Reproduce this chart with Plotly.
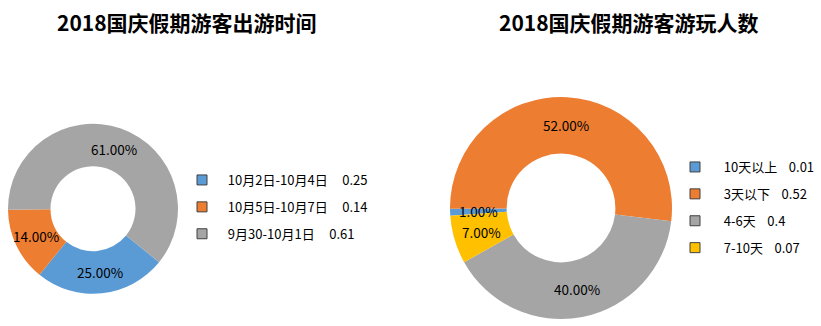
import math
import plotly.graph_objects as go

FONT = "Noto Sans CJK SC"
NB = "\u00a0"

# Left chart data
left_title = "2018国庆假期游客出游时间"
left_cats = ["10月2日-10月4日", "10月5日-10月7日", "9月30-10月1日"]
left_vals = [0.25, 0.14, 0.61]
left_colors = ["#5B9BD5", "#ED7D31", "#A5A5A5"]

# Right chart data
right_title = "2018国庆假期游客游玩人数"
right_cats = ["10天以上", "3天以下", "4-6天", "7-10天"]
right_vals = [0.01, 0.52, 0.4, 0.07]
right_colors = ["#5B9BD5", "#ED7D31", "#A5A5A5", "#FFC000"]

W, H = 821, 326

# pixel geometry of each donut: (left, right, top, bottom), hole, rotation
LEFT_BOX = (8, 178, 123.5, 294)
RIGHT_BOX = (450, 672, 97, 319)
LEFT_HOLE, RIGHT_HOLE = 0.5, 0.49
LEFT_ROT, RIGHT_ROT = 129, 266


def dom(box):
    l, r, t, b = box
    return dict(x=[l / W, r / W], y=[(H - b) / H, (H - t) / H])


def label_annotations(vals, box, hole, rot):
    l, r, t, b = box
    cx, cy = (l + r) / 2, (t + b) / 2
    R = min(r - l, b - t) / 2
    rmid = R * (1 + hole) / 2
    total = sum(vals)
    out = []
    cum = 0.0
    for v in vals:
        ang = math.radians(rot + 360 * (cum + v / 2) / total)
        cum += v
        px = cx + rmid * math.sin(ang)
        py = cy - rmid * math.cos(ang)
        out.append(dict(
            text=f"{v / total:.2%}", x=px / W, y=(H - py) / H,
            xref="paper", yref="paper", xanchor="center", yanchor="middle",
            showarrow=False, font=dict(family=FONT, size=13.5, color="#000000"),
        ))
    return out


fig = go.Figure()

fig.add_trace(go.Pie(
    labels=left_cats, values=left_vals, sort=False, direction="clockwise",
    rotation=LEFT_ROT, hole=LEFT_HOLE,
    marker=dict(colors=left_colors, line=dict(width=0)),
    textinfo="none", domain=dom(LEFT_BOX),
    showlegend=False, hoverinfo="label+value",
))

fig.add_trace(go.Pie(
    labels=right_cats, values=right_vals, sort=False, direction="clockwise",
    rotation=RIGHT_ROT, hole=RIGHT_HOLE,
    marker=dict(colors=right_colors, line=dict(width=0)),
    textinfo="none", domain=dom(RIGHT_BOX),
    showlegend=False, hoverinfo="label+value",
))

# Legend entries (square swatches with dark outline)
for i, (c, v, col) in enumerate(zip(left_cats, left_vals, left_colors)):
    fig.add_trace(go.Scatter(
        x=[None], y=[None], mode="markers",
        marker=dict(symbol="square", size=10, color=col, line=dict(color="#404040", width=1)),
        name=NB * 2 + c + NB * 5 + str(v), legend="legend", legendgroup=f"l{i}",
        showlegend=True,
    ))
for i, (c, v, col) in enumerate(zip(right_cats, right_vals, right_colors)):
    fig.add_trace(go.Scatter(
        x=[None], y=[None], mode="markers",
        marker=dict(symbol="square", size=10, color=col, line=dict(color="#404040", width=1)),
        name=NB * 3 + c + NB * 4 + str(v), legend="legend2", legendgroup=f"r{i}",
        showlegend=True,
    ))

legend_common = dict(
    font=dict(family=FONT, size=13, color="#000000"),
    traceorder="grouped", tracegroupgap=7,
    bgcolor="rgba(0,0,0,0)", yanchor="top", xanchor="left",
    itemclick=False, itemdoubleclick=False,
)

titles = [
    dict(text=f"<b>{left_title}</b>", x=187 / W, y=(H - 22) / H, xref="paper", yref="paper",
         xanchor="center", yanchor="middle", showarrow=False,
         font=dict(family=FONT, size=21, color="#000000")),
    dict(text=f"<b>{right_title}</b>", x=629 / W, y=(H - 22) / H, xref="paper", yref="paper",
         xanchor="center", yanchor="middle", showarrow=False,
         font=dict(family=FONT, size=21, color="#000000")),
]

fig.update_layout(
    width=W, height=H,
    margin=dict(l=0, r=0, t=0, b=0),
    paper_bgcolor="#FFFFFF", plot_bgcolor="#FFFFFF",
    xaxis=dict(visible=False), yaxis=dict(visible=False),
    legend=dict(x=182 / W, y=(H - 165) / H, **legend_common),
    legend2=dict(x=675 / W, y=(H - 152) / H, **legend_common),
    annotations=titles
    + label_annotations(left_vals, LEFT_BOX, LEFT_HOLE, LEFT_ROT)
    + label_annotations(right_vals, RIGHT_BOX, RIGHT_HOLE, RIGHT_ROT),
)

fig.write_html("out.html")
